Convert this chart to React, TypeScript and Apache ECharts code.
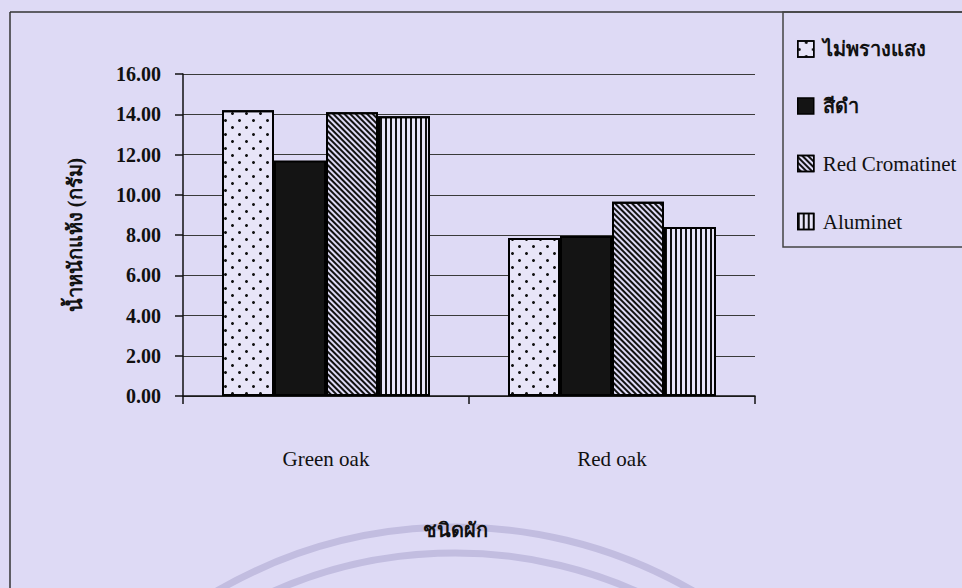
import React, { useEffect, useRef } from "react";
import * as echarts from "echarts";

const categories = ["Green oak", "Red oak"];
const seriesNames = ["ไม่พรางแสง", "สีดำ", "Red Cromatinet", "Aluminet"];
const noShade = [14.2, 7.85];
const blackNet = [11.7, 7.95];
const redCromatinet = [14.1, 9.65];
const aluminet = [13.9, 8.4];
const yTicks = { min: 0, max: 16, interval: 2 };

const BG = "#dedaf5";
const LIGHT = "#e8e5f8";
const SERIF = "'Liberation Serif', 'Times New Roman', serif";
const THAI = "'Liberation Serif', 'Noto Sans', 'DejaVu Sans', sans-serif";

export default function App() {
  const ref = useRef<HTMLDivElement>(null);
  useEffect(() => {
    if (!ref.current) return;
    const chart = echarts.init(ref.current, undefined, { renderer: "svg" });
    const values = [noShade, blackNet, redCromatinet, aluminet];
    const decals: any[] = [
      {
        symbol: "circle",
        symbolSize: 1,
        dashArrayX: [[2.5, 10.5], [0, 6.5, 2.5, 4]],
        dashArrayY: [2.5, 4],
        color: "#111",
        backgroundColor: LIGHT,
      },
      null,
      {
        symbol: "rect",
        symbolSize: 1,
        dashArrayX: [1, 0],
        dashArrayY: [1.6, 1.6],
        rotation: Math.PI / 4,
        color: "#111",
        backgroundColor: BG,
      },
      {
        symbol: "rect",
        symbolSize: 1,
        dashArrayX: [2, 2.7],
        dashArrayY: [1, 0],
        color: "#111",
        backgroundColor: LIGHT,
      },
    ];
    const colors = [LIGHT, "#141414", BG, LIGHT];
    const series = seriesNames.map((name, i) => ({
      name,
      type: "bar",
      data: values[i],
      barWidth: 52,
      barGap: "0%",
      itemStyle: {
        color: colors[i],
        borderColor: "#000",
        borderWidth: 2,
        ...(decals[i] ? { decal: decals[i] } : {}),
      },
      emphasis: { disabled: true },
    }));
    chart.setOption({
      animation: false,
      backgroundColor: BG,
      aria: { enabled: false, decal: { show: true } },
      grid: { left: 183, right: 207, top: 74, bottom: 192, containLabel: false },
      legend: {
        orient: "vertical",
        left: 792,
        top: 34,
        itemWidth: 16,
        itemHeight: 16,
        itemGap: 37,
        icon: "rect",
        selectedMode: false,
        formatter: (name: string) =>
          /[\u0E00-\u0E7F]/.test(name) ? `{th|${name}}` : `{en|${name}}`,
        textStyle: {
          color: "#111",
          padding: [0, 0, 0, 4],
          rich: {
            th: { fontFamily: THAI, fontSize: 20, fontWeight: "bold", color: "#111", lineHeight: 22 },
            en: { fontFamily: SERIF, fontSize: 21, color: "#111", lineHeight: 22 },
          },
        },
        itemStyle: { borderColor: "#000", borderWidth: 1.5 },
        data: seriesNames,
      },
      xAxis: {
        type: "category",
        data: categories,
        name: "ชนิดผัก",
        nameLocation: "middle",
        nameGap: 124,
        nameTextStyle: {
          fontFamily: THAI,
          fontSize: 20,
          fontWeight: "bold",
          color: "#111",
          padding: [0, 28, 0, 0],
        },
        axisLine: { show: true, lineStyle: { color: "#111", width: 1.5 } },
        axisTick: { show: true, length: 8, lineStyle: { color: "#111", width: 1.5 } },
        axisLabel: { margin: 52, fontFamily: SERIF, fontSize: 21, color: "#111" },
      },
      yAxis: {
        type: "value",
        min: yTicks.min,
        max: yTicks.max,
        interval: yTicks.interval,
        name: "น้ำหนักแห้ง (กรัม)",
        nameLocation: "middle",
        nameGap: 98,
        nameTextStyle: { fontFamily: THAI, fontSize: 20, fontWeight: "bold", color: "#111" },
        axisLine: { show: true, lineStyle: { color: "#111", width: 1.5 } },
        axisTick: { show: true, length: 8, lineStyle: { color: "#111", width: 1.5 } },
        axisLabel: {
          margin: 22,
          fontFamily: SERIF,
          fontSize: 20,
          fontWeight: "bold",
          color: "#111",
          formatter: (v: number) => v.toFixed(2),
        },
        splitLine: { show: true, lineStyle: { color: "#3a3a3a", width: 1 } },
      },
      graphic: [
        {
          type: "circle",
          z: -10,
          silent: true,
          shape: { cx: 455, cy: 1002, r: 475 },
          style: { fill: "none", stroke: "#c2bde0", lineWidth: 7 },
        },
        {
          type: "circle",
          z: -10,
          silent: true,
          shape: { cx: 455, cy: 1002, r: 449 },
          style: { fill: "none", stroke: "#c2bde0", lineWidth: 7 },
        },
        {
          type: "line",
          silent: true,
          shape: { x1: 10, y1: 12, x2: 10, y2: 588 },
          style: { stroke: "#333", lineWidth: 1.5 },
        },
        {
          type: "line",
          silent: true,
          shape: { x1: 10, y1: 12, x2: 962, y2: 12 },
          style: { stroke: "#333", lineWidth: 1.5 },
        },
        {
          type: "rect",
          silent: true,
          shape: { x: 783, y: 12, width: 200, height: 235 },
          style: { fill: "none", stroke: "#444", lineWidth: 1.5 },
        },
      ],
      series,
    });
    return () => chart.dispose();
  }, []);
  return (
    <div
      ref={ref}
      style={{ position: "fixed", left: 0, top: 0, width: 962, height: 588 }}
    />
  );
}
